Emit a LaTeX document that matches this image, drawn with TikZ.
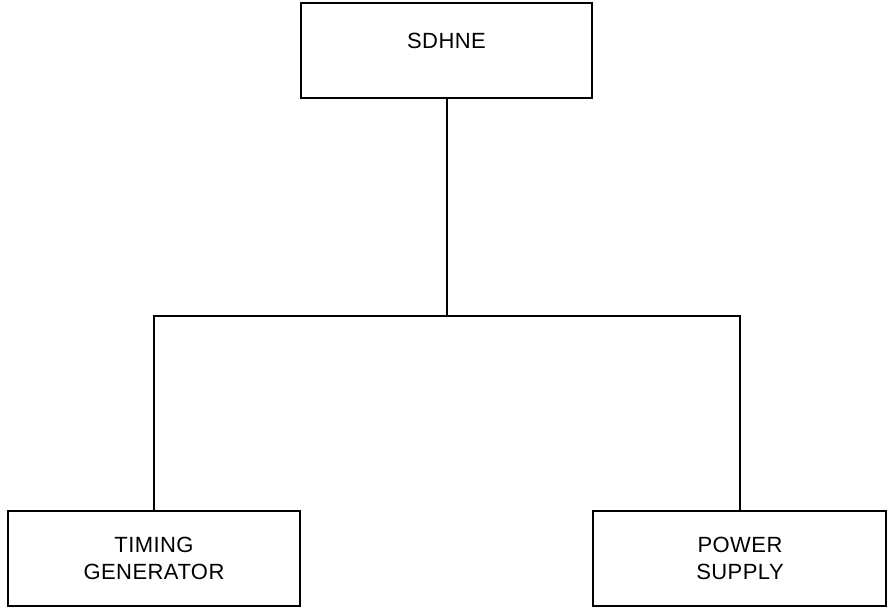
\documentclass[tikz,border=0pt]{standalone}
\usepackage{fontspec}
\setmainfont{Liberation Sans}[LetterSpace=2]
\begin{document}
\begin{tikzpicture}[x=1pt,y=-1pt,
  lbl/.style={font=\fontsize{22}{27}\selectfont,align=center,inner sep=0pt},
  wire/.style={line width=2pt}]
  \useasboundingbox (0,0) rectangle (890,608);
  % boxes and their labels
  \draw[wire] (301,3) rectangle (592,98);
  \node[lbl] (sdhne) at (446.5,41) {SDHNE};
  \draw[wire] (8,511) rectangle (300,606);
  \node[lbl] (tg) at (154,558) {TIMING\\GENERATOR};
  \draw[wire] (593,511) rectangle (886,606);
  \node[lbl] (ps) at (740,558) {POWER\\SUPPLY};
  % connector end points on the box edges
  \coordinate (top) at (446.5,98);
  \coordinate (tgtop) at (154,511);
  \coordinate (pstop) at (740,511);
  \coordinate (mid) at (446.5,316);
  % connectors
  \draw[wire] (top) -- (mid);
  \draw[wire,line join=miter] (tgtop) |- (mid) -| (pstop);
\end{tikzpicture}
\end{document}
